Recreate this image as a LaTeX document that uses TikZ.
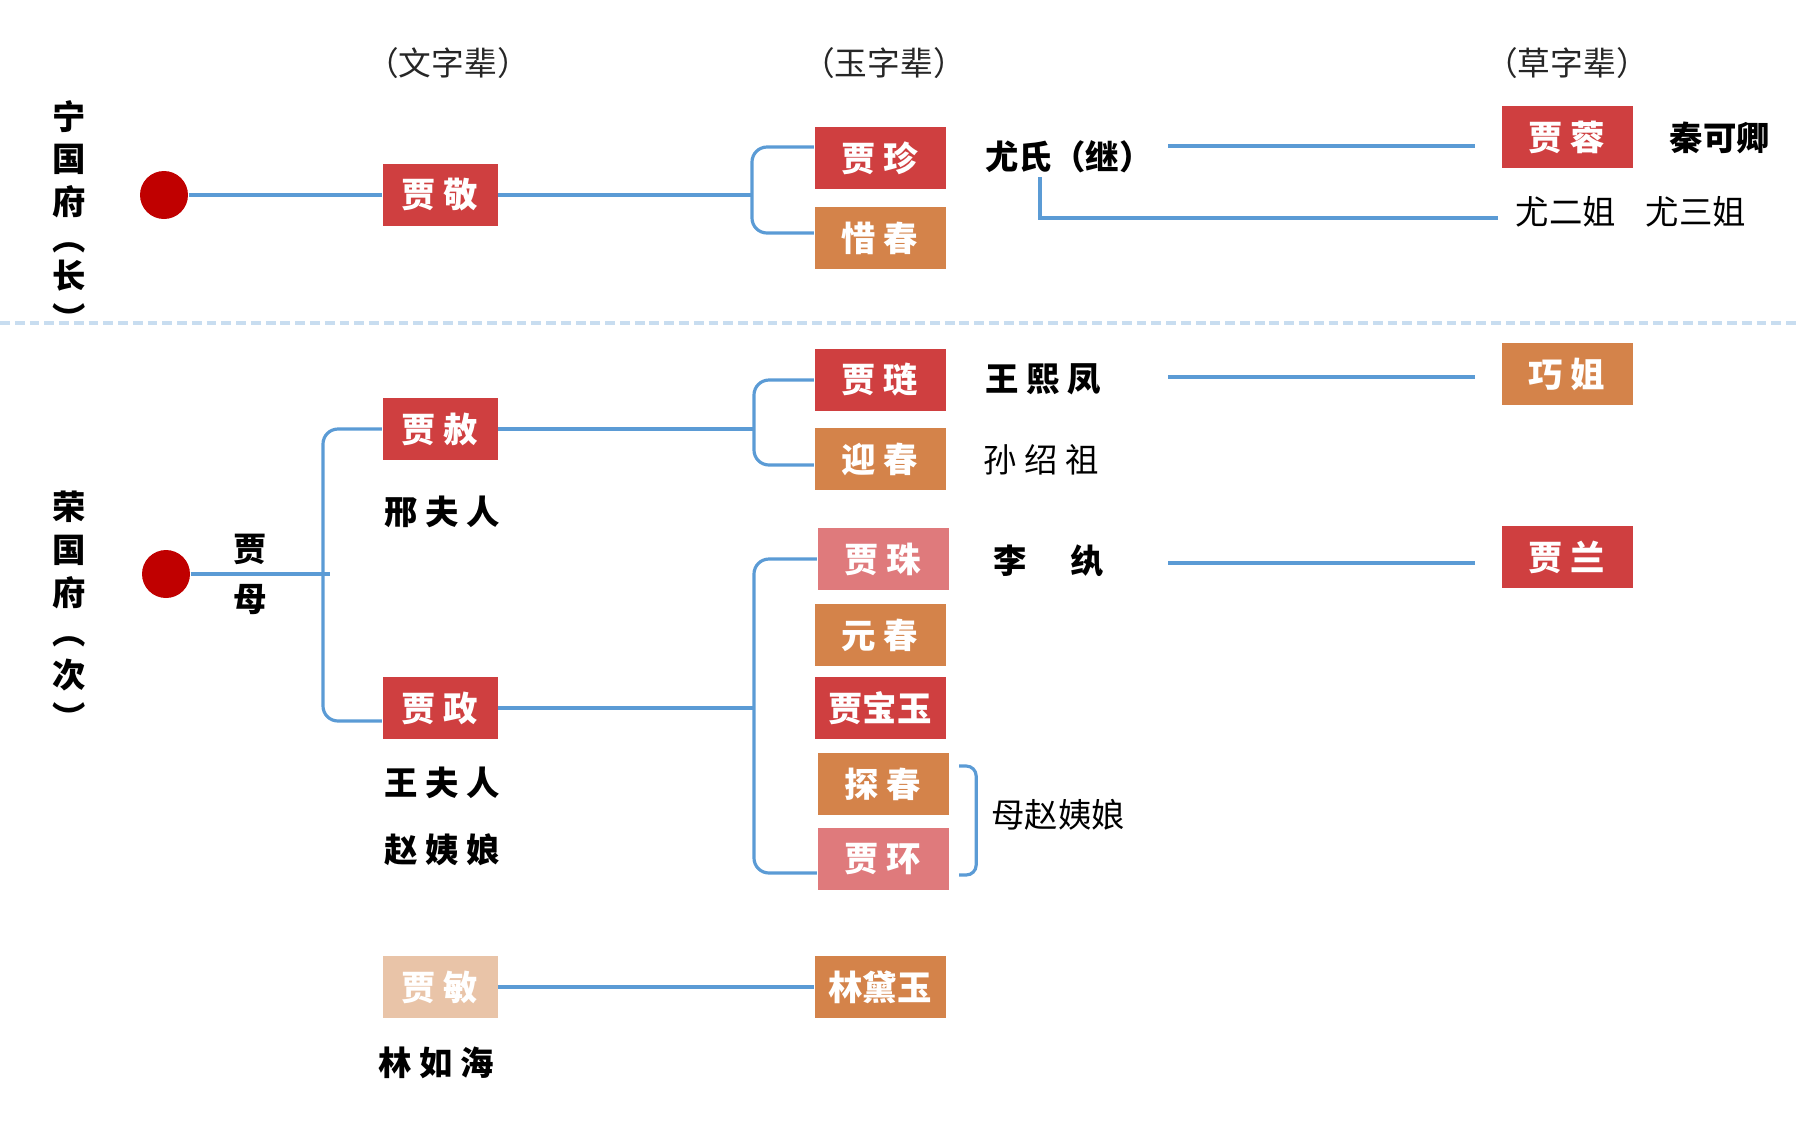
\documentclass[tikz,border=0pt]{standalone}
\usepackage{fontspec}
\setmainfont{Noto Sans CJK SC}
\usepackage{tikz}
\usetikzlibrary{positioning}

\definecolor{boxred}{RGB}{207,63,64}
\definecolor{boxorange}{RGB}{212,131,74}
\definecolor{boxpink}{RGB}{223,122,124}
\definecolor{boxpeach}{RGB}{233,196,168}
\definecolor{linkblue}{RGB}{91,155,213}
\definecolor{dotred}{RGB}{192,0,0}
\definecolor{sepblue}{RGB}{200,221,240}

\tikzset{
  person/.style={rectangle, minimum width=1.31cm, minimum height=0.62cm, inner sep=0pt, text=white, font=\fontsize{9.8}{12}\selectfont\bfseries},
  elder/.style={person, minimum width=1.15cm},
  spouse/.style={font=\fontsize{9.5}{12}\selectfont\bfseries, inner sep=1pt},
  note/.style={font=\fontsize{9.5}{12}\selectfont, inner sep=1pt},
  gen/.style={font=\fontsize{9.3}{11}\selectfont, text=black!85},
  house/.style={align=center, font=\fontsize{9.5}{12.2}\selectfont\bfseries},
  link/.style={draw=linkblue, line width=0.9pt},
  root/.style={circle, fill=dotred, minimum size=0.48cm, inner sep=0pt}
}

\begin{document}
\begin{tikzpicture}
    \useasboundingbox (0,0) rectangle (18,-11.25);
    \draw[sepblue, line width=0.9pt, dash pattern=on 2.8pt off 1.4pt] (0,-3.23) -- (18,-3.23);

    \node[house] (ningfu) at (0.69,-2.16) {宁\\国\\府\\[-2pt]︵\\[-1.3pt]长\\︶};
    \node[house] (rongfu) at (0.69,-6.11) {荣\\国\\府\\[-1pt]︵\\次\\︶};

    \node[gen] (wenbei) at (4.48,-0.63) {（文字辈）};
    \node[gen] (yubei) at (8.84,-0.63) {（玉字辈）};
    \node[gen] (caobei) at (15.67,-0.63) {（草字辈）};

    \node[root] (ningdot) at (1.64,-1.95) {};
    \node[root] (rongdot) at (1.66,-5.74) {};
    \node[house, font=\fontsize{9.5}{14.2}\selectfont\bfseries] (jiamu) at (2.50,-5.74) {贾\\母};

    \node[elder, fill=boxred] (jing) at (4.40,-1.95) {贾 敬};
    \node[elder, fill=boxred] (she) at (4.40,-4.29) {贾 赦};
    \node[elder, fill=boxred] (zheng) at (4.40,-7.08) {贾 政};
    \node[elder, fill=boxpeach] (min) at (4.40,-9.87) {贾 敏};

    \node[spouse] (xingfr) at (4.42,-5.12) {邢 夫 人};
    \node[spouse] (wangfr) at (4.42,-7.83) {王 夫 人};
    \node[spouse] (zhaoyn) at (4.42,-8.50) {赵 姨 娘};
    \node[spouse] (linrh) at (4.36,-10.63) {林 如 海};

    \node[person, fill=boxred] (zhen) at (8.80,-1.58) {贾 珍};
    \node[person, fill=boxorange] (xichun) at (8.80,-2.38) {惜 春};
    \node[person, fill=boxred] (lian) at (8.80,-3.80) {贾 琏};
    \node[person, fill=boxorange] (yingchun) at (8.80,-4.59) {迎 春};
    \node[person, fill=boxpink] (zhu) at (8.83,-5.59) {贾 珠};
    \node[person, fill=boxorange] (yuanchun) at (8.80,-6.35) {元 春};
    \node[person, fill=boxred] (baoyu) at (8.80,-7.08) {贾宝玉};
    \node[person, fill=boxorange] (tanchun) at (8.83,-7.84) {探 春};
    \node[person, fill=boxpink] (huan) at (8.83,-8.59) {贾 环};
    \node[person, fill=boxorange] (daiyu) at (8.80,-9.87) {林黛玉};

    \node[spouse] (youshi) at (10.69,-1.57) {尤氏（继）};
    \node[spouse] (xifeng) at (10.43,-3.79) {王 熙 凤};
    \node[note] (shaozu) at (10.41,-4.60) {孙 绍 祖};
    \node[spouse] (liwan) at (10.49,-5.61) {李\hspace{1.3em}纨};
    \node[note] (muzhao) at (10.58,-8.15) {母赵姨娘};

    \node[person, fill=boxred] (jiarong) at (15.67,-1.37) {贾 蓉};
    \node[person, fill=boxorange] (qiaojie) at (15.67,-3.74) {巧 姐};
    \node[person, fill=boxred] (jialan) at (15.67,-5.57) {贾 兰};
    \node[spouse] (qinkq) at (17.20,-1.38) {秦可卿};
    \node[note] (yousis) at (16.31,-2.12) {尤二姐\hspace{0.9em}尤三姐};

    \coordinate (jingfork) at (7.52,-1.95);
    \coordinate (shefork) at (7.54,-4.29);
    \coordinate (zhengfork) at (7.54,-7.08);
    \coordinate (mufork) at (3.23,-5.74);
    \coordinate (ysline) at (11.68,-1.46);
    \coordinate (xfline) at (11.68,-3.77);
    \coordinate (lwline) at (11.68,-5.63);

    \draw[link] (ningdot) -- (jing);
    \draw[link] (jing) -- (jingfork);
    \draw[link, rounded corners=1.5mm] ([yshift=1.1mm]zhen.west) -| (jingfork) |- ([yshift=0.5mm]xichun.west);

    \draw[link] (rongdot) -- ([xshift=0.7mm]mufork);
    \draw[link, rounded corners=1.5mm] (she.west) -| (mufork) |- ([yshift=-1.3mm]zheng.west);

    \draw[link] (she) -- (shefork);
    \draw[link, rounded corners=1.5mm] (lian.west) -| (shefork) |- ([yshift=-0.6mm]yingchun.west);

    \draw[link] (zheng) -- (zhengfork);
    \draw[link, rounded corners=1.5mm] (zhu.west) -| (zhengfork) |- ([yshift=-1.4mm]huan.west);

    \draw[link] (min) -- (daiyu);

    \draw[link, shorten >=2.6mm] (ysline) -- (ysline -| jiarong.west);
    \draw[link] ([xshift=-2.9mm]youshi.south) |- ([xshift=-1.4mm,yshift=-0.6mm]yousis.west);
    \draw[link, shorten >=2.6mm] (xfline) -- (xfline -| qiaojie.west);
    \draw[link, shorten >=2.6mm] (lwline) -- (lwline -| jialan.west);

    \draw[link, rounded corners=1mm] ([xshift=1mm,yshift=1.8mm]tanchun.east) -- ++(1.7mm,0) |- ([xshift=1mm,yshift=-1.6mm]huan.east);
\end{tikzpicture}
\end{document}
